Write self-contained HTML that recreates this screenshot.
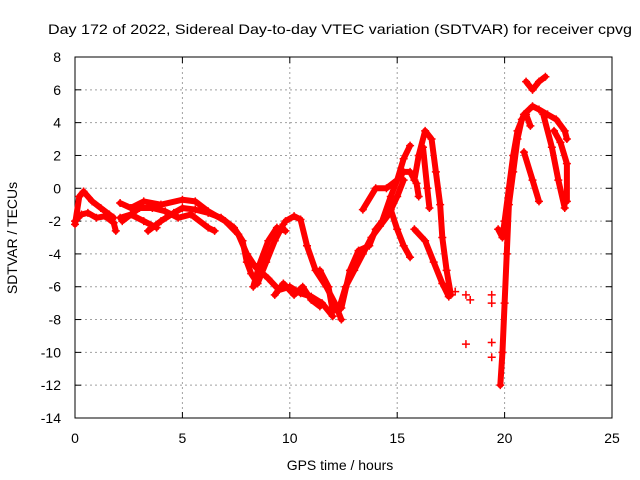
<!DOCTYPE html>
<html><head><meta charset="utf-8">
<style>
html,body{margin:0;padding:0;background:#fff;}
svg{display:block;font-family:"Liberation Sans",sans-serif;}
</style></head>
<body>
<svg id="chart" width="640" height="480" viewBox="0 0 640 480" xmlns="http://www.w3.org/2000/svg">
<rect width="640" height="480" fill="#fff"/>
<text x="340" y="34" font-size="14" text-anchor="middle" textLength="584" lengthAdjust="spacingAndGlyphs" fill="#000">Day 172 of 2022, Sidereal Day-to-day VTEC variation (SDTVAR) for receiver cpvg</text>
<g id="grid"></g>
<g id="axes"></g>
<g id="series"></g>
<text x="340" y="470" font-size="14" text-anchor="middle">GPS time / hours</text>
<text x="0" y="0" font-size="14" text-anchor="middle" transform="translate(17,238) rotate(-90)">SDTVAR / TECUs</text>
</svg>
<script>
const xTicks=[0,5,10,15,20,25];
const yTicks=[8,6,4,2,0,-2,-4,-6,-8,-10,-12,-14];
const track1=[[0,-2.2],[0.2,-0.5],[0.4,-0.2],[0.8,-0.8],[1.2,-1.2],[1.6,-1.6],[1.8,-1.8]];
const track2=[[0,-2],[0.3,-1.6],[0.6,-1.5],[1.0,-1.8],[1.4,-1.7],[1.8,-2.1],[1.9,-2.6]];
const track3=[[2.1,-0.9],[2.6,-1.2],[3.2,-0.8],[4,-1],[5,-0.7],[5.6,-0.8],[6.2,-1.4],[7,-2],[7.6,-2.8],[8,-4],[8.4,-4.8],[9,-5.5],[9.5,-6.2],[10,-6],[10.5,-6.4],[11,-6.6],[11.5,-7],[12,-7.8]];
const track4=[[2.1,-1.8],[2.6,-1.6],[3.2,-2],[3.8,-2.4]];
const track5=[[3.4,-2.6],[4,-2],[4.6,-1.5],[5,-1.2],[5.6,-1.3],[6.2,-1.5],[6.8,-1.8],[7.4,-2.4],[7.8,-3.2],[8,-4.5],[8.2,-5.2],[8.5,-5.8],[8.9,-4.5],[9.3,-3.2],[9.7,-2.2]];
const track6=[[2.2,-2],[3,-1.2],[3.6,-1.2],[4.2,-1.4],[4.8,-1.8],[5.4,-1.6],[6.2,-2.4],[6.5,-2.6]];
const track7=[[8.3,-6],[8.6,-4.6],[9,-3.2],[9.4,-2.4],[9.8,-2.6]];
const track8=[[9.8,-2],[10.2,-1.7],[10.5,-1.9],[10.8,-3.5],[11.2,-5],[11.7,-6],[12.1,-7],[12.4,-8]];
const track9=[[9.3,-6.5],[9.7,-5.8],[10.2,-6.5],[10.6,-6],[11,-6.8],[11.4,-7.2]];
const track10=[[11.4,-5],[11.8,-6],[12,-7.5],[12.3,-7.3],[12.6,-6],[13,-5],[13.4,-4],[13.8,-3],[14.2,-2.3],[14.6,-1.6],[15,-0.5],[15.3,0.5]];
const track11=[[12.4,-7.3],[12.8,-5],[13.2,-3.8],[13.7,-3.5],[14,-2.5],[14.3,-2],[14.7,-0.5],[15,0.5],[15.3,1.8],[15.6,2.6]];
const track12=[[13.4,-1.3],[14,0],[14.5,0],[15,0.5],[15.3,1],[15.6,1],[15.9,0.3],[16,-0.5]];
const track13=[[14.7,-1.3],[15,-2.5],[15.3,-3.5],[15.6,-4.2]];
const track14=[[15.8,0.5],[16,2],[16.3,3.5],[16.6,3],[16.8,1],[17,-1],[17.1,-3],[17.3,-5],[17.5,-6.5]];
const track15=[[16.2,2.5],[16.4,0],[16.5,-1.2]];
const track16=[[15.8,-2.5],[16.3,-3.2],[16.7,-4.5],[17.1,-5.8],[17.4,-6.6]];
const track17=[[19.8,-12],[19.9,-10],[20,-7],[20.1,-4],[20.2,-1],[20.4,1],[20.6,3],[20.8,4.2],[21,4.5],[21.2,3.8]];
const track18=[[19.7,-2.5],[19.9,-3],[20,-2],[20.2,0],[20.4,2],[20.6,3.5],[20.9,4.5],[21.3,5],[21.6,4.8],[22,4.5],[22.4,4.2],[22.8,3.5],[22.9,3]];
const track19=[[21,6.5],[21.3,6],[21.6,6.5],[21.9,6.8]];
const track20=[[20.9,2.2],[21.3,0.5],[21.6,-0.8]];
const track21=[[21.8,4.5],[22.2,2.5],[22.5,0.5],[22.8,-1.2]];
const track22=[[22.3,3.5],[22.6,2.8],[22.9,1.5],[22.9,-0.8]];
const isolated=[[17.7,-6.3],[18.2,-6.5],[18.2,-9.5],[18.4,-6.8],[19.4,-6.5],[19.4,-10.3],[19.4,-9.4],[19.4,-7]];
const tracks=[track1,track2,track3,track4,track5,track6,track7,track8,track9,track10,track11,track12,track13,track14,track15,track16,track17,track18,track19,track20,track21,track22];

const NS="http://www.w3.org/2000/svg";
const L=75,R=612,T=57,B=418;
const xs=v=>L+(v-0)/25*(R-L);
const ys=v=>T+(8-v)/22*(B-T);
function mk(tag,attrs,parent){const e=document.createElementNS(NS,tag);for(const k in attrs)e.setAttribute(k,attrs[k]);parent.appendChild(e);return e;}
const grid=document.getElementById('grid'),axes=document.getElementById('axes'),series=document.getElementById('series');
xTicks.forEach(t=>{
  if(t>0&&t<25){const g=mk('line',{x1:xs(t),x2:xs(t),y1:T,y2:B,stroke:'#a0a0a0','stroke-dasharray':'2,3'},grid);
  
  }
  const tk=mk('text',{x:xs(t),y:B+25,'font-size':14,'text-anchor':'middle'},axes);tk.textContent=t;
  
  
  mk('line',{x1:xs(t),x2:xs(t),y1:B,y2:B-6,stroke:'#000'},axes);
  mk('line',{x1:xs(t),x2:xs(t),y1:T,y2:T+6,stroke:'#000'},axes);
});
yTicks.forEach(t=>{
  if(t<8&&t>-14){const g=mk('line',{x1:L,x2:R,y1:ys(t),y2:ys(t),stroke:'#a0a0a0','stroke-dasharray':'2,3'},grid);
  
  }
  const tk=mk('text',{x:L-14,y:ys(t)+5,'font-size':14,'text-anchor':'end'},axes);tk.textContent=t;
  
  
  mk('line',{x1:L,x2:L+6,y1:ys(t),y2:ys(t),stroke:'#000'},axes);
  mk('line',{x1:R,x2:R-6,y1:ys(t),y2:ys(t),stroke:'#000'},axes);
});
mk('rect',{x:L,y:T,width:R-L,height:B-T,fill:'none',stroke:'#000'},axes);
function plus(x,y){
  const p=mk('path',{d:`M${x-4},${y}H${x+4}M${x},${y-4}V${y+4}`,stroke:'#f00','stroke-width':1.5},series);
  
  
}
tracks.forEach(tr=>{
  const pl=mk('polyline',{points:tr.map(p=>xs(p[0])+','+ys(p[1])).join(' '),fill:'none',stroke:'#f00','stroke-width':6,'stroke-linejoin':'round','stroke-linecap':'round'},series);
  
  
  tr.forEach(p=>plus(xs(p[0]),ys(p[1])));
});
isolated.forEach(p=>plus(xs(p[0]),ys(p[1])));
</script>
</body></html>
